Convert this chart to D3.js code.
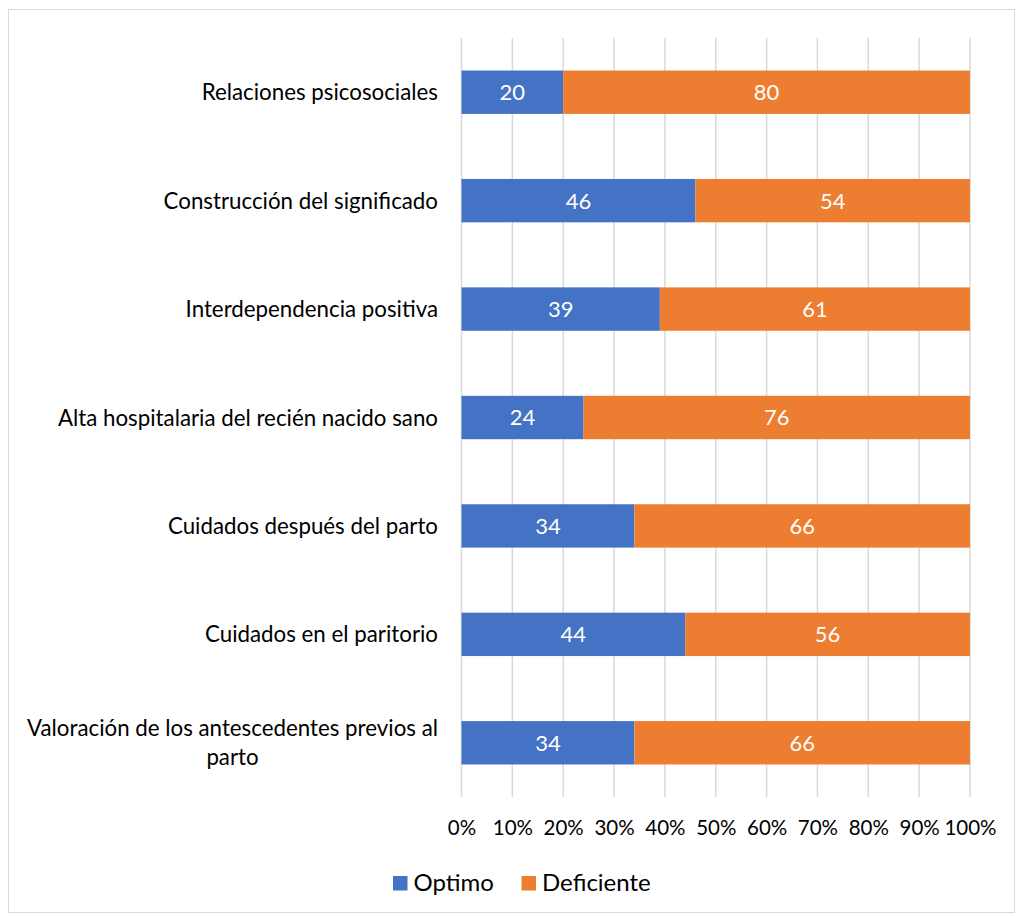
<!DOCTYPE html>
<html><head><meta charset="utf-8">
<script src="https://cdn.jsdelivr.net/npm/d3@7"></script>
<style>body{margin:0;background:#fff;} svg{display:block;}</style>
</head><body>
<svg id="c" width="1019" height="916"></svg>
<script>
const categories = [
  ["Relaciones psicosociales"],
  ["Construcción del significado"],
  ["Interdependencia positiva"],
  ["Alta hospitalaria del recién nacido sano"],
  ["Cuidados después del parto"],
  ["Cuidados en el paritorio"],
  ["Valoración de los antescedentes previos al", "parto"]
];
const seriesNames = ["Optimo", "Deficiente"];
const optimo = [20, 46, 39, 24, 34, 44, 34];
const deficiente = [80, 54, 61, 76, 66, 56, 66];
const tickValues = [0, 0.1, 0.2, 0.3, 0.4, 0.5, 0.6, 0.7, 0.8, 0.9, 1];
const colors = ["#4472C4", "#ED7D31"];

(function(){
const FONT = "Lato, 'Open Sans', sans-serif";
const svg = d3.select("#c");
svg.append("rect").attr("x", 8.5).attr("y", 9.5).attr("width", 1006).attr("height", 903)
  .attr("fill", "#fff").attr("stroke", "#D9D9D9").attr("stroke-width", 1);

const pL = 461.5, pR = 970, pT = 38, pB = 797;
const x = d3.scaleLinear().domain([0, 1]).range([pL, pR]);
const keys = categories.map((c, i) => i);
const y = d3.scaleBand().domain(keys).range([pT, pB]).paddingInner(0.6).paddingOuter(0.3);

svg.append("g").selectAll("line").data(tickValues).join("line")
  .attr("x1", d => x(d)).attr("x2", d => x(d))
  .attr("y1", pT).attr("y2", pB)
  .attr("stroke", "#D9D9D9").attr("stroke-width", 1.5);

const axis = d3.axisBottom(x).tickValues(tickValues).tickFormat(d3.format(".0%")).tickSize(0).tickPadding(0);
const ag = svg.append("g").attr("transform", `translate(0,${pB + 38})`).call(axis);
ag.select(".domain").remove();
ag.selectAll("text").attr("font-family", FONT).attr("font-size", 20.5).attr("fill", "#000").attr("dy", 0);

const rows = keys.map(i => ({i, Optimo: optimo[i] / 100, Deficiente: deficiente[i] / 100,
  vO: optimo[i], vD: deficiente[i]}));
const stack = d3.stack().keys(seriesNames)(rows);

stack.forEach((s, si) => {
  const g = svg.append("g");
  g.selectAll("rect").data(s).join("rect")
    .attr("x", d => x(d[0])).attr("width", d => x(d[1]) - x(d[0]))
    .attr("y", d => y(d.data.i)).attr("height", y.bandwidth())
    .attr("fill", colors[si]);
  g.selectAll("text").data(s).join("text")
    .attr("x", d => (x(d[0]) + x(d[1])) / 2)
    .attr("y", d => y(d.data.i) + y.bandwidth() / 2)
    .attr("dy", "0.36em").attr("text-anchor", "middle")
    .attr("font-family", FONT).attr("font-size", 22).attr("fill", "#fff")
    .text(d => si === 0 ? d.data.vO : d.data.vD);
});

const lg = svg.append("g");
keys.forEach(i => {
  const lines = categories[i];
  const cy = y(i) + y.bandwidth() / 2;
  const lh = 29;
  const t = lg.append("text").attr("font-family", FONT).attr("font-size", 22.3).attr("fill", "#000");
  lines.forEach((ln, k) => {
    t.append("tspan").attr("x", 438).attr("y", cy + (k - (lines.length - 1) / 2) * lh)
      .attr("dy", "0.36em").attr("text-anchor", "end").text(ln);
  });
  if (lines.length > 1) {
    const w0 = t.select("tspan").node().getComputedTextLength();
    t.selectAll("tspan").each(function(_, k) {
      if (k > 0) d3.select(this).attr("text-anchor", "middle").attr("x", 438 - w0 / 2);
    });
  }
});

const leg = svg.append("g");
const legX = [393, 521.5];
seriesNames.forEach((n, i) => {
  leg.append("rect").attr("x", legX[i]).attr("y", 876).attr("width", 14.5).attr("height", 14.5).attr("fill", colors[i]);
  leg.append("text").attr("x", legX[i] + 20.5).attr("y", 883).attr("dy", "0.35em")
    .attr("font-family", FONT).attr("font-size", 24).attr("fill", "#000").text(n);
});
})();
</script>
</body></html>
